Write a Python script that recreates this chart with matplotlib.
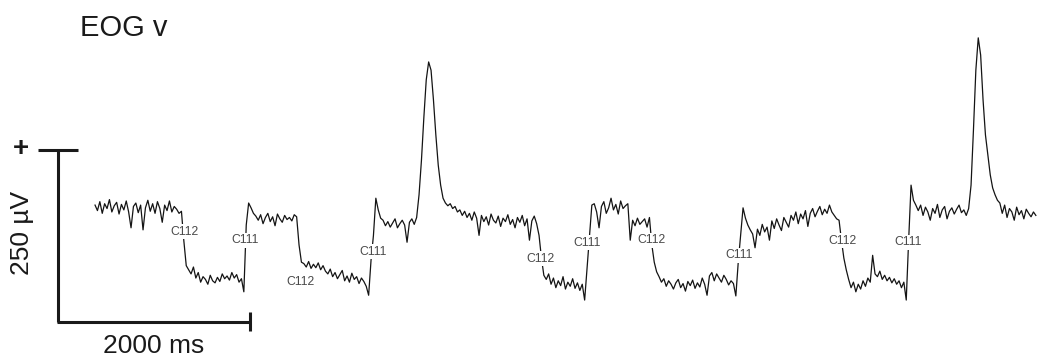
import numpy as np
import matplotlib
matplotlib.use("Agg")
import matplotlib.pyplot as plt

plt.rcParams["font.family"] = ["Liberation Sans", "DejaVu Sans"]

# vertical EOG, one sample every 25 ms, amplitude in microvolts
sample_ms = 25
eog_uv = [
    # fixation before first C112
    170, 162, 175, 158, 172, 165, 178, 160, 169, 174, 157, 171, 163, 176, 160,
    137, 168, 173, 159, 170, 134, 166, 177, 161, 172, 158, 175, 165, 145, 170,
    162, 176, 160, 168, 164, 158, 161,
    118, 82,
    76, 70, 80, 64, 72, 58, 66, 62, 55, 68, 60, 57, 65, 59, 70, 63, 67, 61,
    72, 64, 69, 58, 63, 44,
    141, 173, 166, 158, 154,
    148, 156, 143, 152, 158, 146, 153, 140, 157, 150, 145, 155, 149, 152, 147,
    156, 153,
    112, 87,
    85, 80, 88, 78, 84, 79, 86, 76, 82, 74, 70, 77, 66, 72, 63, 69, 75, 60,
    67, 58, 71, 62, 66, 56, 64, 59, 52, 39,
    90, 126, 180, 163, 151,
    148, 140, 146, 138, 144, 150, 137, 143, 148, 141, 116, 145, 150, 142, 152,
    # blink
    185, 235, 297, 352, 378, 366, 323, 272, 228, 199, 180, 173, 169,
    172, 165, 168, 160, 163, 155, 161, 152, 158, 148, 160, 151, 126, 155, 146,
    153, 141, 157, 148, 144, 154, 139, 151, 146, 156, 142, 149, 137, 152, 145,
    155, 140, 150, 119, 147, 154, 143,
    126, 93, 68,
    62, 70, 55, 64, 50, 60, 53, 66, 48, 58, 52, 63, 49, 57, 46, 55, 32,
    78, 126, 170,
    172, 160, 137, 168, 175, 158, 166, 180, 163, 171, 157, 176, 165, 169, 172,
    119, 148, 140, 151, 142, 146, 150, 138, 152,
    112, 87, 73,
    66, 58, 63, 52, 60, 55, 48, 57, 62, 50, 56, 45, 59, 53, 61, 49, 57, 51,
    64, 55, 39, 67, 72, 60, 70, 64, 58, 68, 62, 54, 60, 56, 38,
    87, 126, 166, 151, 141, 134,
    128, 108, 135, 126, 142, 131, 138, 119, 147, 136, 150, 141, 133, 152, 145,
    138, 155, 148, 160, 143, 157, 150, 162, 139, 158, 165, 153, 161, 168, 156,
    164, 158, 170, 160, 155, 150, 148,
    119, 93, 76,
    62, 50, 58, 44, 55, 48, 60, 52, 64, 58, 97, 70, 66, 74, 62, 68, 60, 65,
    57, 63, 55, 60, 50, 58, 32,
    119, 199, 177, 170,
    162, 170, 155, 167, 160, 148, 165, 158, 171, 152, 163, 168, 150, 161, 166,
    157, 164, 170, 159, 163, 155, 165,
    # blink
    199, 279, 366, 413, 388, 323, 272, 243, 214, 195, 185, 177, 173,
    158, 170, 152, 165, 160, 148, 167, 156, 162, 150, 164, 158, 153, 160, 155,
]

# event codes, their times (ms) and the level their tag sits at (uV)
event_codes = ["C112", "C111", "C112", "C111", "C112",
               "C111", "C112", "C111", "C112", "C111"]
event_ms = [930, 1560, 2140, 2900, 4640, 5130, 5800, 6710, 7790, 8470]
tag_uv = [131, 119, 58, 102, 92, 115, 119, 97, 118, 116]

# calibration bar
bar_ms = 2000
bar_uv = 250

t = np.arange(len(eog_uv)) * sample_ms

fig = plt.figure(figsize=(10.37, 3.62), dpi=100)
ax = fig.add_axes([0, 0, 1, 1])
ax.set_xlim(-990, 9812)
ax.set_ylim(-58, 468)
ax.axis("off")

ax.plot(t, eog_uv, color="#141414", lw=0.9, zorder=2)

for code, ms, uv in zip(event_codes, event_ms, tag_uv):
    ax.text(ms, uv, code, fontsize=8.8, color="#4a4a4a",
            ha="center", va="center", zorder=3,
            bbox=dict(boxstyle="square,pad=0.12", fc="white", ec="none"))

# scale bar, corner sits left of the trace
x0 = -385
bar_kw = dict(color="#1a1a1a", lw=2.2, solid_capstyle="butt", zorder=2)
ax.plot([x0, x0], [0, bar_uv], **bar_kw)
ax.plot([x0 - 10, x0 + bar_ms], [0, 0], **bar_kw)
ax.plot([x0 - 210, x0 + 205], [bar_uv, bar_uv], **bar_kw)
ax.plot([x0 + bar_ms, x0 + bar_ms], [-13, 14], **bar_kw)

ax.text(x0 - 385, bar_uv + 1, "+", fontsize=20, fontweight="bold",
        ha="center", va="center", color="#1a1a1a")
ax.text(x0 - 375, 130, "250 \u00b5V", fontsize=19, rotation=90,
        ha="center", va="center", color="#1a1a1a")
ax.text(x0 + 1000, -45, "2000 ms", fontsize=19, ha="center",
        va="baseline", color="#1a1a1a")

fig.text(80 / 1037, 1 - 35.5 / 362, "EOG v", fontsize=21, ha="left",
         va="baseline", color="#1a1a1a")

fig.savefig("out.png", dpi=100, facecolor="white")
